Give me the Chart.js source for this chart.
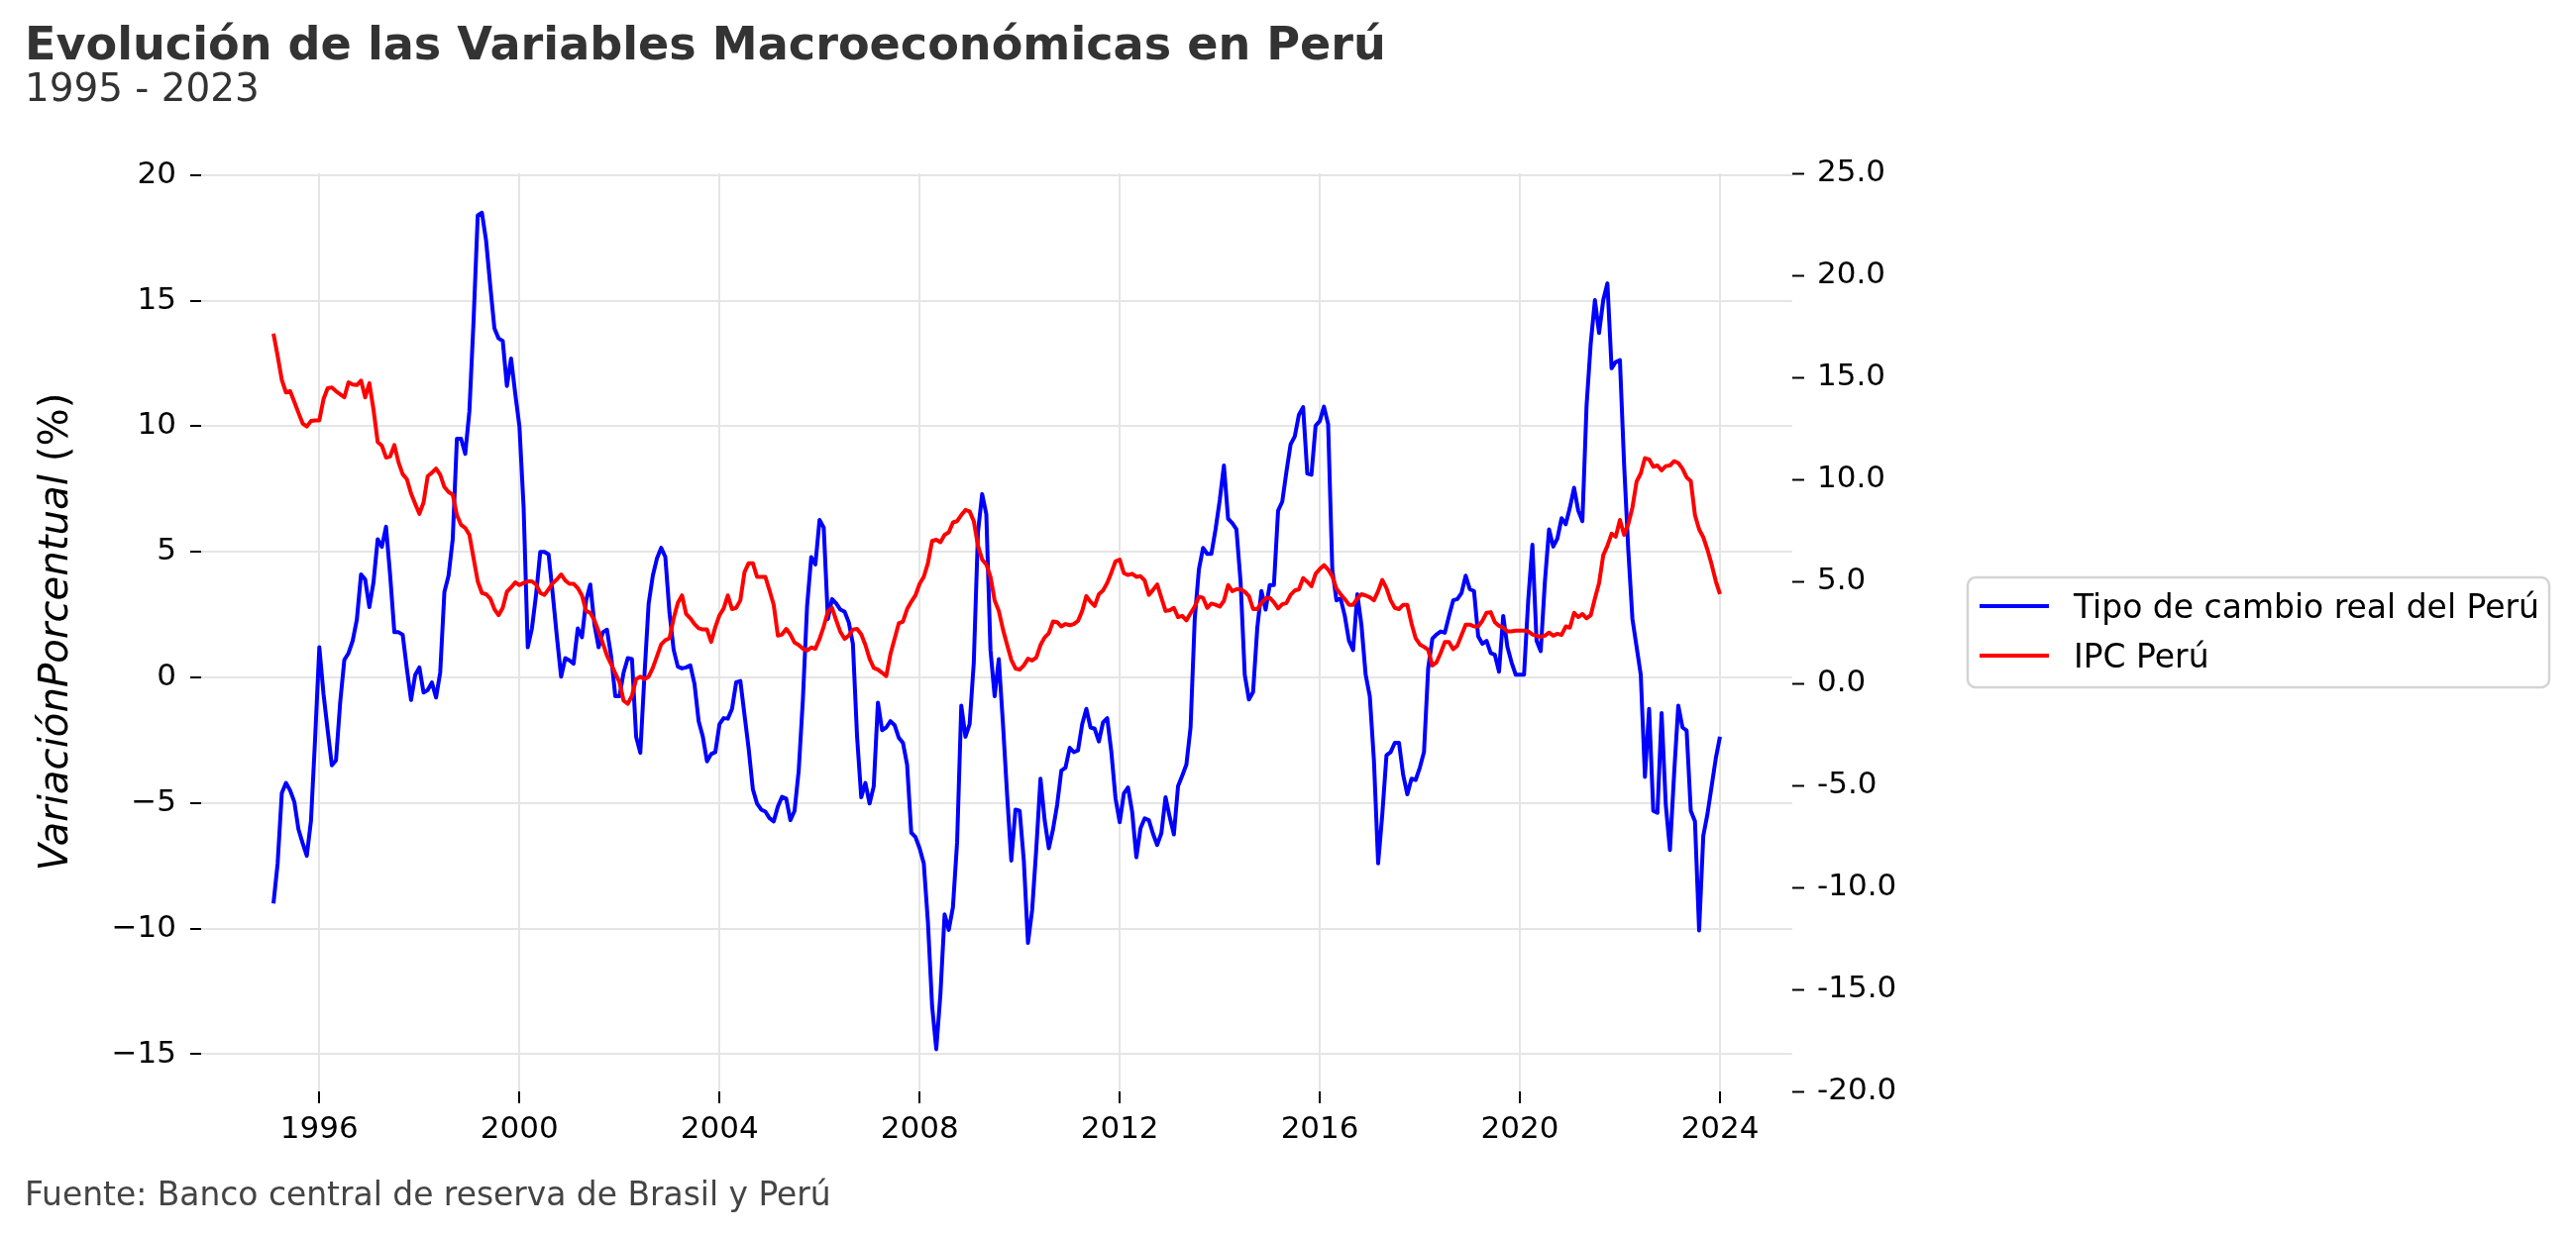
<!DOCTYPE html>
<html>
<head>
<meta charset="utf-8">
<script src="https://cdn.jsdelivr.net/npm/chart.js@4.4.1/dist/chart.umd.min.js"></script>
<style>
html,body{margin:0;padding:0;background:#ffffff;}
#wrap{width:2600px;height:1248px;position:relative;}
canvas{display:block;}
</style>
</head>
<body>
<div id="wrap"><canvas id="grafico" width="2600" height="1248"></canvas></div>
<script>
// ---------------- DATOS ----------------
const titulo = "Evolución de las Variables Macroeconómicas en Perú";
const subtitulo = "1995 - 2023";
const fuente = "Fuente: Banco central de reserva de Brasil y Perú";
const etiquetaY = ["VariaciónPorcentual", " (%)"];
const nombreSerie1 = "Tipo de cambio real del Perú";
const nombreSerie2 = "IPC Perú";

// meses: enero 1995 .. diciembre 2023
const fechas = [];
for (let a = 1995; a <= 2023; a++) for (let m = 1; m <= 12; m++) fechas.push(a + "-" + String(m).padStart(2, "0"));

// Tipo de cambio real del Perú (eje izquierdo, var. %)
const tipoCambioReal = [
-9.0,-7.4,-4.6,-4.2,-4.5,-4.95,-6.05,-6.6,-7.1,-5.7,
-2.4,1.2,-0.65,-2.1,-3.5,-3.3,-1.0,0.7,0.97,1.46,
2.3,4.1,3.9,2.8,3.8,5.5,5.2,6.0,4.05,1.8,
1.8,1.7,0.35,-0.9,0.1,0.4,-0.6,-0.5,-0.2,-0.8,
0.2,3.4,4.05,5.5,9.5,9.5,8.9,10.6,14.2,18.4,
18.5,17.4,15.6,13.9,13.5,13.4,11.6,12.7,11.3,10.0,
6.8,1.2,1.95,3.3,5.0,5.0,4.9,3.3,1.6,0.03,
0.77,0.68,0.55,1.95,1.6,3.07,3.7,2.1,1.2,1.8,
1.9,0.85,-0.75,-0.75,0.2,
0.77,0.73,-2.36,-3.0,0.1,2.94,4.05,4.74,5.16,4.8,
2.57,1.1,0.43,0.36,0.4,0.48,-0.26,-1.74,-2.36,-3.34,
-3.05,-2.97,-1.86,-1.62,-1.64,-1.25,-0.19,-0.14,-1.5,-2.85,
-4.45,-5.02,-5.26,-5.34,-5.6,-5.73,-5.14,-4.75,-4.82,-5.68,
-5.31,-3.71,-0.88,2.82,4.79,4.5,6.27,5.97,2.33,3.12,
2.94,2.7,2.62,2.2,1.34,-2.36,-4.77,-4.2,-5.02,-4.33,
-1.0,-2.1,-1.99,-1.74,-1.9,-2.4,-2.6,-3.47,-6.18,-6.35,
-6.8,-7.4,-9.75,-13.08,-14.8,-12.6,-9.43,-10.05,-9.14,-6.55,
-1.12,-2.36,-1.86,0.6,5.78,7.3,6.5,1.1,-0.75,0.73,
-1.86,-4.7,-7.29,-5.26,-5.31,-7.29,-10.57,-9.26,-6.8,-4.03,
-5.68,-6.8,-6.05,-5.07,-3.71,-3.59,-2.8,-2.97,-2.9,-1.86,
-1.25,-1.99,-2.04,-2.55,-1.79,-1.62,-2.97,-4.82,-5.76,-4.62,
-4.38,-5.36,-7.16,-6.0,-5.61,-5.68,-6.23,-6.67,-6.2,-4.77,
-5.56,-6.25,-4.33,-3.91,-3.47,-1.99,2.33,4.3,5.16,4.92,
4.92,5.9,7.06,8.44,6.32,6.15,5.9,3.81,0.11,-0.88,
-0.58,1.96,3.44,2.7,3.68,3.68,6.64,7.0,8.19,9.28,
9.6,10.46,10.76,8.12,8.07,10.02,10.21,10.78,10.09,4.3,
3.07,3.14,2.45,1.46,1.09,3.31,2.08,0.11,-0.75,-3.34,
-7.4,-5.44,-3.1,-2.97,-2.6,-2.6,-3.88,-4.65,-4.03,-4.08,
-3.59,-2.97,0.36,1.54,1.71,1.83,1.78,2.45,3.07,
3.12,3.36,4.05,3.51,3.44,1.64,1.34,1.46,0.97,0.9,
0.23,2.45,1.22,0.6,0.11,0.11,0.11,3.07,5.28,1.46,
1.05,3.81,5.9,5.21,5.53,6.34,6.1,6.76,7.55,6.64,
6.22,10.83,13.3,15.02,13.71,15.02,15.69,12.31,12.56,12.63,
8.49,5.09,2.33,1.22,0.11,-3.96,-1.25,-5.31,-5.39,-1.42,
-5.07,-6.87,-3.84,-1.12,-1.99,-2.11,-5.31,-5.73,-10.07,-6.3,
-5.44,-4.33,-3.22,-2.36
];

// IPC Perú (eje derecho, var. %)
const ipcPeru = [
17.14,16.05,14.87,14.26,14.32,13.8,13.26,12.74,12.59,12.86,
12.89,12.89,13.93,14.47,14.5,14.32,14.17,14.02,14.75,14.65,
14.62,14.84,14.02,14.71,13.41,11.83,11.65,11.07,11.13,11.68,
10.83,10.25,10.01,9.31,8.8,8.31,8.86,10.16,10.32,10.53,
10.22,9.62,9.38,9.25,8.25,7.77,7.62,7.28,6.13,5.0,
4.43,4.37,4.16,3.64,3.34,3.7,4.49,4.7,4.95,4.82,
4.92,5.0,5.0,4.85,4.43,4.34,4.61,4.92,5.1,5.34,
5.04,4.88,4.88,4.67,4.31,3.55,3.46,3.09,2.55,1.97,
1.37,0.94,0.49,0.06,-0.85,
-1.0,-0.6,0.21,0.33,0.21,0.33,0.76,1.33,1.91,2.12,
2.21,3.19,3.94,4.31,3.4,3.19,2.91,2.7,2.64,2.64,
2.03,2.76,3.34,3.67,4.31,3.64,3.7,4.07,5.46,5.89,
5.89,5.22,5.22,5.22,4.55,3.85,2.34,2.4,2.67,2.4,
2.0,1.88,1.7,1.61,1.76,1.7,2.18,2.79,3.52,3.7,
3.09,2.52,2.18,2.34,2.64,2.67,2.4,1.88,1.21,0.76,
0.67,0.52,0.36,1.43,2.18,2.94,3.03,3.64,4.0,4.31,
4.88,5.22,5.89,6.98,7.04,6.92,7.28,7.4,7.89,7.95,
8.25,8.5,8.43,7.95,6.74,6.07,5.83,5.22,4.07,3.55,
2.64,1.88,1.15,0.73,0.67,0.88,1.21,1.12,1.27,1.88,
2.25,2.46,3.03,3.0,2.79,2.91,2.85,2.91,3.06,3.55,
4.28,4.0,3.79,4.37,4.55,4.92,5.43,5.98,6.07,5.4,
5.31,5.37,5.22,5.25,5.04,4.34,4.58,4.85,4.19,3.55,
3.58,3.7,3.25,3.31,3.09,3.43,3.76,4.25,4.19,3.7,
3.91,3.85,3.76,4.04,4.82,4.52,4.61,4.61,4.49,4.28,
3.64,3.64,3.94,4.16,4.19,3.97,3.67,3.88,3.94,4.34,
4.55,4.61,5.16,4.98,4.76,5.37,5.61,5.79,5.58,5.25,
4.64,4.37,4.13,3.85,3.85,4.16,4.37,4.31,4.22,4.07,
4.52,5.07,4.67,4.07,3.7,3.64,3.85,3.85,2.94,2.21,
1.91,1.79,1.64,0.88,1.03,1.49,2.03,2.03,1.67,
1.85,2.37,2.88,2.88,2.79,2.79,3.06,3.46,3.49,3.0,
2.82,2.73,2.55,2.55,2.58,2.58,2.58,2.55,2.4,2.34,
2.28,2.34,2.49,2.34,2.43,2.37,2.79,2.73,3.46,3.25,
3.4,3.19,3.34,4.16,4.92,6.28,6.74,7.34,7.19,8.01,
7.28,7.8,8.62,9.89,10.29,11.04,10.98,10.62,10.68,10.44,
10.65,10.68,10.89,10.8,10.53,10.1,9.92,8.25,7.55,7.16,
6.55,5.83,5.01,4.37
];

// ticks
const ticksAnios = [1996, 2000, 2004, 2008, 2012, 2016, 2020, 2024];
const ticksIzq = [-15, -10, -5, 0, 5, 10, 15, 20];
const ticksDer = [-20, -15, -10, -5, 0, 5, 10, 15, 20, 25];

// ---------------- GRAFICO ----------------
const FAM = '"DejaVu Sans", "Liberation Sans", sans-serif';
Chart.defaults.font.family = FAM;

function aAnioDecimal(f) { const p = f.split("-"); return Number(p[0]) + Number(p[1]) / 12; }
const xs = fechas.map(aAnioDecimal);
const serie1 = tipoCambioReal.map((v, k) => ({ x: xs[k], y: v }));
const serie2 = ipcPeru.map((v, k) => ({ x: xs[k], y: v }));

function fitSize(ctx, text, style, target) {
  ctx.font = style + ' 100px ' + FAM;
  return 100 * target / ctx.measureText(text).width;
}

const textos = {
  id: 'textos',
  afterDraw(chart) {
    const ctx = chart.ctx;
    ctx.save();
    ctx.textBaseline = 'alphabetic';
    ctx.textAlign = 'left';
    // titulo
    let s = fitSize(ctx, titulo, 'bold', 1374);
    ctx.font = 'bold ' + s + 'px ' + FAM;
    ctx.fillStyle = '#333333';
    ctx.fillText(titulo, 25, 60);
    // subtitulo
    ctx.font = '38.9px ' + FAM;
    ctx.fillText(subtitulo, 25, 102);
    // fuente
    s = fitSize(ctx, fuente, '', 814);
    ctx.font = s + 'px ' + FAM;
    ctx.fillStyle = '#444444';
    ctx.fillText(fuente, 25, 1217);
    // etiqueta eje Y
    ctx.font = 'italic 100px ' + FAM;
    const w1 = ctx.measureText(etiquetaY[0]).width;
    ctx.font = '100px ' + FAM;
    const w2 = ctx.measureText(etiquetaY[1]).width;
    const sy = 100 * 483 / (w1 + w2);
    ctx.translate(68, 638);
    ctx.rotate(-Math.PI / 2);
    ctx.fillStyle = '#000000';
    ctx.font = 'italic ' + sy + 'px ' + FAM;
    const a1 = ctx.measureText(etiquetaY[0]).width;
    ctx.fillText(etiquetaY[0], -483 / 2, 0);
    ctx.font = sy + 'px ' + FAM;
    ctx.fillText(etiquetaY[1], -483 / 2 + a1, 0);
    ctx.restore();

    // leyenda
    ctx.save();
    const bx = 1986, by = 583, bw = 587, bh = 111;
    ctx.beginPath();
    ctx.roundRect(bx, by, bw, bh, 8);
    ctx.fillStyle = 'rgba(255,255,255,0.8)';
    ctx.fill();
    ctx.lineWidth = 2.5;
    ctx.strokeStyle = '#d4d4d4';
    ctx.stroke();
    const ls = fitSize(ctx, nombreSerie1, '', 470);
    ctx.font = ls + 'px ' + FAM;
    ctx.textBaseline = 'alphabetic';
    ctx.textAlign = 'left';
    chart.data.datasets.forEach((d, k) => {
      const yy = 612 + k * 50;
      ctx.beginPath();
      ctx.moveTo(1998, yy);
      ctx.lineTo(2068, yy);
      ctx.strokeStyle = d.borderColor;
      ctx.lineWidth = 4;
      ctx.stroke();
      ctx.fillStyle = '#000000';
      ctx.fillText(d.label, 2093, yy + 11.5);
    });
    ctx.restore();
  }
};

const gridColor = '#e5e5e5';
const tickFont = { family: FAM, size: 31 };

new Chart(document.getElementById('grafico'), {
  type: 'line',
  data: {
    datasets: [
      { label: nombreSerie1, data: serie1, yAxisID: 'y', borderColor: '#0000ff', backgroundColor: '#0000ff',
        borderWidth: 4, pointRadius: 0, tension: 0, fill: false, borderJoinStyle: 'round', order: 1 },
      { label: nombreSerie2, data: serie2, yAxisID: 'y1', borderColor: '#ff0000', backgroundColor: '#ff0000',
        borderWidth: 4, pointRadius: 0, tension: 0, fill: false, borderJoinStyle: 'round', order: 0 }
    ]
  },
  options: {
    responsive: false,
    devicePixelRatio: 1,
    animation: false,
    events: [],
    layout: { padding: { top: 175, left: 0, right: 0, bottom: 0 } },
    plugins: { legend: { display: false }, title: { display: false }, tooltip: { enabled: false } },
    scales: {
      x: {
        type: 'linear',
        min: 1993.637, max: 2025.446,
        afterBuildTicks: s => { s.ticks = ticksAnios.map(v => ({ value: v })); },
        afterFit: s => { s.height = 146; },
        ticks: { callback: v => String(v), font: tickFont, color: '#000000', padding: 8, maxRotation: 0, autoSkip: false },
        grid: { color: gridColor, lineWidth: 2, tickColor: '#000000', tickLength: 12, tickWidth: 2 },
        border: { display: false }
      },
      y: {
        position: 'left',
        min: -16.48, max: 20.07,
        afterBuildTicks: s => { s.ticks = ticksIzq.map(v => ({ value: v })); },
        afterFit: s => { s.width = 203; },
        ticks: { callback: v => (v < 0 ? '\u2212' + Math.abs(v) : String(v)), font: tickFont, color: '#000000', padding: 14, autoSkip: false },
        grid: { color: gridColor, lineWidth: 2, tickColor: '#000000', tickLength: 11, tickWidth: 2 },
        border: { display: false }
      },
      y1: {
        position: 'right',
        min: -20, max: 25,
        afterBuildTicks: s => { s.ticks = ticksDer.map(v => ({ value: v })); },
        afterFit: s => { s.width = 791; },
        ticks: { callback: v => v.toFixed(1), font: tickFont, color: '#000000', padding: 13, autoSkip: false },
        grid: { drawOnChartArea: false, tickColor: '#000000', tickLength: 12, tickWidth: 2 },
        border: { display: false }
      }
    }
  },
  plugins: [textos]
});
</script>
</body>
</html>
